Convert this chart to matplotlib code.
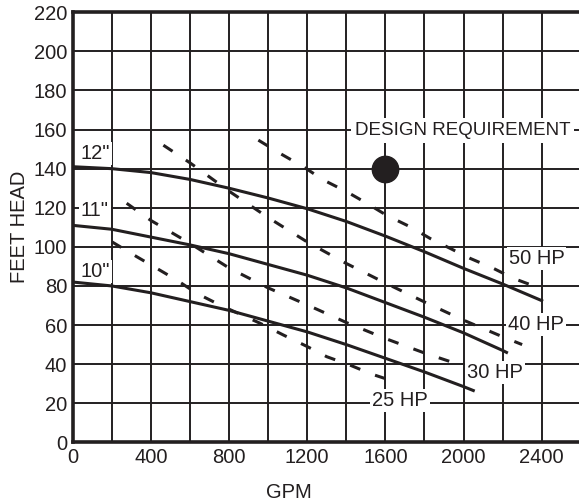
import numpy as np
import matplotlib.pyplot as plt
from matplotlib.ticker import MultipleLocator

plt.rcParams['font.family'] = ['Liberation Sans', 'DejaVu Sans']

# impeller curves (GPM, feet head)
q12 = [0, 200, 400, 600, 800, 1000, 1200, 1400, 1600, 1800, 2000, 2200, 2400]
h12 = [141, 140, 138, 134.5, 130, 125, 119.5, 113, 105.5, 97.5, 89, 81, 72.5]

q11 = [0, 200, 400, 600, 800, 1000, 1200, 1400, 1600, 1800, 2000, 2200, 2220]
h11 = [111, 109, 105, 101, 96.5, 91, 85.5, 79, 71.5, 64, 56, 47, 46]

q10 = [0, 200, 400, 600, 800, 1000, 1200, 1400, 1600, 1800, 2000, 2050]
h10 = [82, 80, 76.5, 72, 67.5, 62, 56.5, 50, 43, 36, 28.5, 26.5]

# horsepower lines
q50 = [950, 1061, 1180, 1283, 1402, 1505, 1607, 1726, 1829, 1932, 2034, 2153, 2255, 2400]
h50 = [154.6, 147.8, 141, 134.2, 128.2, 122.3, 116.1, 110.3, 104.3, 99.2, 94.1, 89, 83.9, 78.5]

q40 = [464, 600, 800, 1000, 1200, 1400, 1600, 1800, 2000, 2200, 2300]
h40 = [152, 143, 128.5, 115, 102.5, 91.5, 81.5, 71.8, 62.5, 54, 50]

q30 = [276, 400, 600, 800, 1000, 1200, 1400, 1600, 1800, 1980]
h30 = [122.3, 113.5, 101.8, 89.2, 79, 70.3, 61.3, 53.1, 45.7, 39.7]

q25 = [200, 327, 430, 532, 635, 754, 959, 1078, 1198, 1300, 1419, 1530, 1633]
h25 = [102.6, 95, 89, 83, 76.2, 70.2, 60.9, 54.9, 49.1, 43.8, 39.5, 34.9, 31.5]

design_q, design_h = 1600, 140

dia_labels = ['12"', '11"', '10"']
dia_pos = [(40, 148), (40, 118.5), (40, 87.5)]
hp_labels = ['50 HP', '40 HP', '30 HP', '25 HP']
hp_pos = [(2373, 94), (2373, 60.5), (2161, 35.7), (1673, 21.6)]

xticks = [0, 400, 800, 1200, 1600, 2000, 2400]
yticks = list(range(0, 221, 20))

fig = plt.figure(figsize=(5.79, 5.04), dpi=100)
ax = fig.add_axes([0.1256, 0.1224, 0.8744, 0.8532])

ink = '#231f20'
ax.set_xlim(0, 2591)
ax.set_ylim(0, 220)
ax.set_xticks(xticks)
ax.set_yticks(yticks)
ax.xaxis.set_minor_locator(MultipleLocator(200))
ax.grid(which='both', color=ink, lw=1.4, zorder=0)
ax.set_axisbelow(True)
ax.tick_params(which='both', length=0, labelsize=14.5, colors=ink, pad=4)

for s in ['left', 'bottom', 'top']:
    ax.spines[s].set_linewidth(2.6)
    ax.spines[s].set_color(ink)
ax.spines['right'].set_visible(False)

for q, h in [(q12, h12), (q11, h11), (q10, h10)]:
    ax.plot(q, h, color=ink, lw=2.2, zorder=3)

for q, h in [(q50, h50), (q40, h40), (q30, h30), (q25, h25)]:
    ax.plot(q, h, color=ink, lw=2.2, dashes=(3.6, 5.2), zorder=3)

ax.plot(design_q, design_h, 'o', color=ink, ms=19, zorder=4)

box = dict(facecolor='white', edgecolor='none', pad=1.5)
for lab, (x, y) in zip(dia_labels, dia_pos):
    ax.text(x, y, lab, fontsize=14.5, color=ink, ha='left', va='center', bbox=box, zorder=2)
for lab, (x, y) in zip(hp_labels, hp_pos):
    ax.text(x, y, lab, fontsize=14.5, color=ink, ha='center', va='center', bbox=box, zorder=2)
ax.text(1995, 159.5, 'DESIGN REQUIREMENT', fontsize=13.5, color=ink,
        ha='center', va='center', bbox=dict(facecolor='white', edgecolor='none', pad=2.5), zorder=2)

ax.set_xlabel('GPM', fontsize=14.5, color=ink)
ax.set_ylabel('FEET HEAD', fontsize=14.5, color=ink)
ax.xaxis.set_label_coords(0.426, -0.094)
ax.yaxis.set_label_coords(-0.086, 0.5)

fig.savefig('out.png', dpi=100)
